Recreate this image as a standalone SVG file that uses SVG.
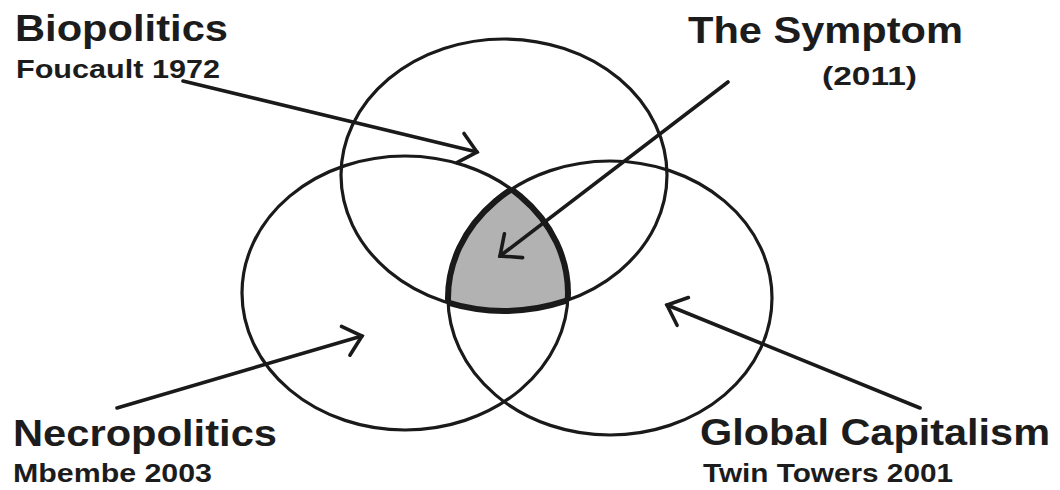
<svg xmlns="http://www.w3.org/2000/svg" width="1060" height="490" viewBox="0 0 1060 490">
<style>
.ring{fill:none;stroke:#1a1a1a;stroke-width:3.2}
.edge{fill:none;stroke:#1a1a1a;stroke-width:3.6;stroke-linecap:round}
.t{font-family:"Liberation Sans",Arial,sans-serif;font-weight:bold;fill:#1c1c1c}
.h{font-size:36px}
.s{font-size:26px}
</style>
<defs>
<clipPath id="cl"><ellipse cx="405" cy="293" rx="163" ry="137"/></clipPath>
<clipPath id="cr"><ellipse cx="610" cy="298" rx="162" ry="137"/></clipPath>
<clipPath id="ct"><ellipse cx="504" cy="175" rx="163" ry="136"/></clipPath>
<marker id="ah" markerUnits="userSpaceOnUse" viewBox="0 0 26 40" refX="22" refY="20" markerWidth="26" markerHeight="40" orient="auto">
<path d="M5,5 L22,20 L5,35" fill="none" stroke="#1a1a1a" stroke-width="3.6" stroke-linecap="round" stroke-linejoin="miter"/>
</marker>
</defs>
<rect width="1060" height="490" fill="#fff"/>
<g id="symptom-region">
<g clip-path="url(#cl)"><g clip-path="url(#cr)">
<ellipse cx="504" cy="175" rx="163" ry="136" fill="#b2b2b2"/>
<ellipse cx="504" cy="175" rx="163" ry="136" fill="none" stroke="#1a1a1a" stroke-width="6"/>
</g></g>
<g clip-path="url(#ct)"><g clip-path="url(#cr)">
<ellipse cx="405" cy="293" rx="163" ry="137" fill="none" stroke="#1a1a1a" stroke-width="6"/>
</g></g>
<g clip-path="url(#ct)"><g clip-path="url(#cl)">
<ellipse cx="610" cy="298" rx="162" ry="137" fill="none" stroke="#1a1a1a" stroke-width="6"/>
</g></g>
</g>
<g id="biopolitics">
<ellipse class="ring" cx="504" cy="175" rx="163" ry="136"/>
<text class="t h" x="15" y="41" textLength="213" lengthAdjust="spacingAndGlyphs">Biopolitics</text>
<text class="t s" x="16" y="78" textLength="204" lengthAdjust="spacingAndGlyphs">Foucault 1972</text>
</g>
<g id="necropolitics">
<ellipse class="ring" cx="405" cy="293" rx="163" ry="137"/>
<text class="t h" x="13" y="446" textLength="264" lengthAdjust="spacingAndGlyphs">Necropolitics</text>
<text class="t s" x="13" y="482" textLength="199" lengthAdjust="spacingAndGlyphs">Mbembe 2003</text>
</g>
<g id="global-capitalism">
<ellipse class="ring" cx="610" cy="298" rx="162" ry="137"/>
<text class="t h" x="700" y="445" textLength="350" lengthAdjust="spacingAndGlyphs">Global Capitalism</text>
<text class="t s" x="703" y="482" textLength="250" lengthAdjust="spacingAndGlyphs">Twin Towers 2001</text>
</g>
<g id="the-symptom">
<text class="t h" x="688" y="43" textLength="275" lengthAdjust="spacingAndGlyphs">The Symptom</text>
<text class="t s" x="822" y="85" textLength="95" lengthAdjust="spacingAndGlyphs">(2011)</text>
</g>
<g id="connectors">
<line class="edge" x1="183" y1="81" x2="477" y2="152" marker-end="url(#ah)"/>
<line class="edge" x1="728" y1="82" x2="500" y2="256" marker-end="url(#ah)"/>
<line class="edge" x1="117" y1="408" x2="362" y2="336" marker-end="url(#ah)"/>
<line class="edge" x1="920" y1="408" x2="667" y2="305" marker-end="url(#ah)"/>
</g>
</svg>
